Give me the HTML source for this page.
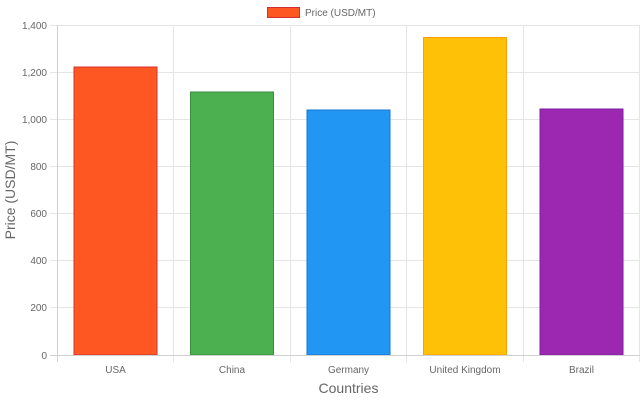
<!DOCTYPE html>
<html><head><style>body{margin:0;background:#fff}svg{display:block}text{font-family:"Liberation Sans",Arial,sans-serif;fill:#666}</style></head>
<body>
<svg width="640" height="400" viewBox="0 0 640 400">
<g stroke="#e5e5e5" stroke-width="1">
<line x1="57.5" y1="25.5" x2="640" y2="25.5"/>
<line x1="57.5" y1="72.5" x2="640" y2="72.5"/>
<line x1="57.5" y1="119.5" x2="640" y2="119.5"/>
<line x1="57.5" y1="166.5" x2="640" y2="166.5"/>
<line x1="57.5" y1="213.5" x2="640" y2="213.5"/>
<line x1="57.5" y1="260.5" x2="640" y2="260.5"/>
<line x1="57.5" y1="307.5" x2="640" y2="307.5"/>
<line x1="173.5" y1="25" x2="173.5" y2="362"/>
<line x1="290.5" y1="25" x2="290.5" y2="362"/>
<line x1="406.5" y1="25" x2="406.5" y2="362"/>
<line x1="523.5" y1="25" x2="523.5" y2="362"/>
<line x1="639.5" y1="25" x2="639.5" y2="362"/>
</g>
<g stroke="#e5e5e5"><line x1="50" y1="25.5" x2="57" y2="25.5"/><line x1="50" y1="72.5" x2="57" y2="72.5"/><line x1="50" y1="119.5" x2="57" y2="119.5"/><line x1="50" y1="166.5" x2="57" y2="166.5"/><line x1="50" y1="213.5" x2="57" y2="213.5"/><line x1="50" y1="260.5" x2="57" y2="260.5"/><line x1="50" y1="307.5" x2="57" y2="307.5"/></g>
<g stroke-width="1">
<rect x="74" y="67" width="83" height="288" fill="#ff5722" stroke="#d32f2f"/>
<rect x="190.5" y="92" width="83" height="263" fill="#4caf50" stroke="#388e3c"/>
<rect x="307" y="110" width="83" height="245" fill="#2196f3" stroke="#1976d2"/>
<rect x="423.5" y="37.5" width="83" height="317.5" fill="#ffc107" stroke="#ffa000"/>
<rect x="540" y="109" width="83" height="246" fill="#9c27b0" stroke="#7b1fa2"/>
</g>
<g stroke="#d0d0d0"><line x1="57.5" y1="25" x2="57.5" y2="362"/><line x1="50" y1="355.5" x2="640" y2="355.5"/></g>
<g font-size="10" text-anchor="end">
<text x="47" y="29">1,400</text><text x="47" y="76">1,200</text><text x="47" y="123">1,000</text><text x="47" y="170">800</text><text x="47" y="217">600</text><text x="47" y="264">400</text><text x="47" y="311">200</text><text x="47" y="359">0</text>
</g>
<g font-size="10" text-anchor="middle">
<text x="115.5" y="373">USA</text><text x="232" y="373">China</text><text x="348.5" y="373">Germany</text><text x="465" y="373">United Kingdom</text><text x="581.5" y="373">Brazil</text>
</g>
<text x="348.5" y="393" font-size="14" text-anchor="middle">Countries</text>
<text transform="translate(15,190) rotate(-90)" font-size="14" text-anchor="middle">Price (USD/MT)</text>
<rect x="267.5" y="7.5" width="32" height="10" fill="#ff5722" stroke="#d32f2f"/>
<text x="305" y="16" font-size="10">Price (USD/MT)</text>
</svg>
</body></html>
